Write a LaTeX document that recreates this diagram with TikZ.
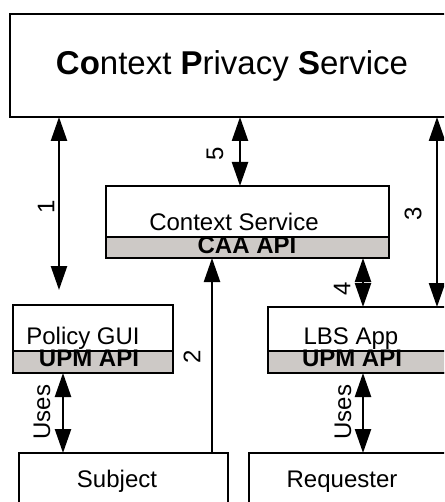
\documentclass[tikz,border=0pt]{standalone}
\usepackage{fontspec}
\setmainfont{Liberation Sans}
\usetikzlibrary{arrows.meta}
\definecolor{apigray}{RGB}{205,201,198}

\begin{document}
\begin{tikzpicture}[
  x=1pt,
  y=-1pt,
  box/.style={
    draw,
    line width=2.8pt,
    fill=white,
    anchor=north west,
    inner sep=0pt,
    outer sep=0pt
  },
  api/.style={
    box,
    fill=apigray
  },
  lbl/.style={
    font=\fontsize{24}{28}\selectfont,
    anchor=base,
    inner sep=0pt
  },
  num/.style={
    font=\fontsize{24}{28}\selectfont,
    rotate=90,
    inner sep=0pt
  },
  biarrow/.style={
    line width=2.4pt,
    >={Triangle[length=24pt,width=16pt]},
    <->
  }
]
\useasboundingbox (0,0) rectangle (444,502);
\clip (0,0) rectangle (444,502);

\node[box, minimum width=470pt, minimum height=103pt] (cps) at (10,14) {};
\node[box, minimum width=283pt, minimum height=71pt] (cs) at (106,186) {};
\node[api, minimum width=283pt, minimum height=21pt] (caa) at (106,237) {};
\node[box, minimum width=160pt, minimum height=68pt] (pgui) at (13,305) {};
\node[api, minimum width=160pt, minimum height=22pt] (upmgui) at (13,351) {};
\node[box, minimum width=200pt, minimum height=66pt] (lbs) at (268,307) {};
\node[api, minimum width=200pt, minimum height=22pt] (upmlbs) at (268,351) {};
\node[box, minimum width=209pt, minimum height=80pt] (subj) at (19,453) {};
\node[box, minimum width=220pt, minimum height=80pt] (req) at (249,453) {};

\node[lbl, font=\fontsize{33}{38}\selectfont] (cpstxt) at (232,75) {\textbf{Co}ntext \textbf{P}rivacy \textbf{S}ervice};
\node[lbl] (cstxt) at (234,230) {Context Service};
\node[lbl, font=\fontsize{24}{28}\selectfont\bfseries] (caatxt) at (247,253) {CAA API};
\node[lbl] (pguitxt) at (83,344) {Policy GUI};
\node[lbl, font=\fontsize{24}{28}\selectfont\bfseries] (upmguitxt) at (89,366) {UPM API};
\node[lbl] (lbstxt) at (351,344) {LBS App};
\node[lbl, font=\fontsize{24}{28}\selectfont\bfseries] (upmlbstxt) at (352,366) {UPM API};
\node[lbl] (subjtxt) at (117,487) {Subject};
\node[lbl] (reqtxt) at (342,487) {Requester};

\coordinate (x1) at (59,0);
\coordinate (end1) at (59,290);
\coordinate (x2) at (212,0);
\coordinate (x3) at (437,0);
\coordinate (x4) at (363,0);
\coordinate (x5) at (240,0);
\coordinate (xu) at (63,0);

\draw[biarrow] (cps.south -| x1) -- (end1);
\draw[biarrow] (cps.south -| x5) -- (cs.north -| x5);
\draw[biarrow] (cps.south -| x3) -- (lbs.north -| x3);
\draw[biarrow] (caa.south -| x4) -- (lbs.north -| x4);
\draw[biarrow, <-] (caa.south -| x2) -- (subj.north -| x2);
\draw[biarrow] (upmgui.south -| xu) -- (subj.north -| xu);
\draw[biarrow] (upmlbs.south -| x4) -- (req.north -| x4);

\node[num] (n1) at (46,207) {1};
\node[num] (n2) at (192,357) {2};
\node[num] (n3) at (413,214) {3};
\node[num] (n4) at (342,289) {4};
\node[num] (n5) at (215,154) {5};
\node[num] (usesgui) at (42,412) {Uses};
\node[num] (useslbs) at (343,412) {Uses};
\end{tikzpicture}
\end{document}
